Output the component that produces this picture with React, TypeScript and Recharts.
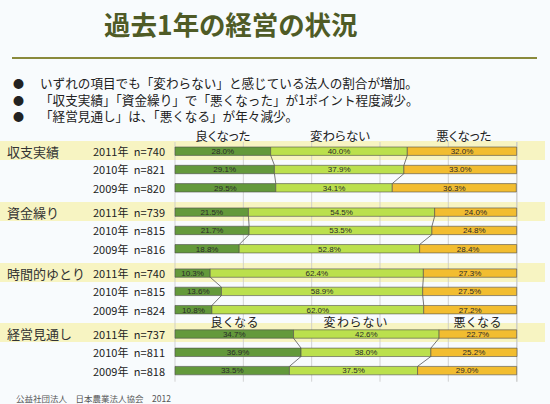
import { Bar, BarChart, CartesianGrid, LabelList, ReferenceLine, XAxis, YAxis } from "recharts";

const groups = ["収支実績", "資金繰り", "時間的ゆとり", "経営見通し"];
const years = ["2011年", "2010年", "2009年"];
const sampleSizes = [
	[740, 821, 820],
	[739, 815, 816],
	[740, 815, 824],
	[737, 811, 818],
];
const better = [
	[28.0, 29.1, 29.5],
	[21.5, 21.7, 18.8],
	[10.3, 13.6, 10.8],
	[34.7, 36.9, 33.5],
];
const same = [
	[40.0, 37.9, 34.1],
	[54.5, 53.5, 52.8],
	[62.4, 58.9, 62.0],
	[42.6, 38.0, 37.5],
];
const worse = [
	[32.0, 33.0, 36.3],
	[24.0, 24.8, 28.4],
	[27.3, 27.5, 27.2],
	[22.7, 25.2, 29.0],
];
const pastLabels = ["良くなった", "変わらない", "悪くなった"];
const outlookLabels = ["良くなる", "変わらない", "悪くなる"];
const bullets = [
	"いずれの項目でも「変わらない」と感じている法人の割合が増加。",
	"「収支実績」「資金繰り」で「悪くなった」が1ポイント程度減少。",
	"「経営見通し」は、「悪くなる」が年々減少。",
];
const title = "過去1年の経営の状況";
const footer = "公益社団法人　日本農業法人協会　2012";

// layout
const W = 550;
const H = 404;
const PLOT_LEFT = 175;
const PLOT_RIGHT = 517;
const PLOT_TOP = 142;
const ROW_PX = 18.3;
const GROUP_STEP = 3.33;
const Y_MIN = -0.5;
const Y_MAX = 12.6;
const PLOT_BOTTOM = PLOT_TOP + (Y_MAX - Y_MIN) * ROW_PX;
const BAR_PX = 8.4;
const HALF = BAR_PX / 2 / ROW_PX;

const COLORS = ["#63993b", "#bbe04d", "#f2bd30"];
const JP = '"Noto Sans CJK JP", "Noto Sans", sans-serif';

const rows = groups.flatMap((g, gi) =>
	years.map((y, yi) => ({
		group: g,
		gi,
		yi,
		year: y,
		n: sampleSizes[gi][yi],
		pos: gi * GROUP_STEP + yi,
		better: better[gi][yi],
		same: same[gi][yi],
		worse: worse[gi][yi],
	})),
);

const rowY = (pos: number) => PLOT_TOP + (pos - Y_MIN) * ROW_PX;

const connectors = rows.flatMap((r, i) => {
	if (r.yi === 2) return [];
	const next = rows[i + 1];
	return [
		[r.better, next.better],
		[r.better + r.same, next.better + next.same],
	].map(([a, b], k) => ({ key: `${i}-${k}`, a, b, y1: r.pos + HALF, y2: next.pos - HALF }));
});

const pct = (v: any) => `${Number(v).toFixed(1)}%`;

function RowTick(props: any) {
	const row = rows.find((r) => Math.abs(r.pos - props.payload.value) < 0.01);
	if (!row) return null;
	const y = props.y;
	return (
		<g fontFamily={JP} fill="#222">
			{row.yi === 0 && (
				<text x={7} y={y} dominantBaseline="central" fontSize={13} fill="#333">
					{row.group}
				</text>
			)}
			<text x={93} y={y} dominantBaseline="central" fontSize={11}>
				{row.year}
			</text>
			<text x={165} y={y} dominantBaseline="central" fontSize={11} textAnchor="end">
				n={row.n}
			</text>
		</g>
	);
}

const headerStyle = (x: number, y: number, size: number): React.CSSProperties => ({
	position: "absolute",
	left: x - 60,
	width: 120,
	top: y - size * 0.5,
	textAlign: "center",
	fontSize: size,
	lineHeight: `${size}px`,
	color: "#222",
	fontFeatureSettings: '"palt"',
});

export default function App() {
	return (
		<div
			style={{
				position: "absolute",
				left: 0,
				top: 0,
				width: W,
				height: H,
				background: "#f8fbfd",
				fontFamily: JP,
				overflow: "hidden",
			}}
		>
			<div
				style={{
					position: "absolute",
					left: 104,
					top: 8,
					fontSize: 26.5,
					fontWeight: 700,
					color: "#4f5b26",
					lineHeight: "32px",
					fontFeatureSettings: '"palt"',
				}}
			>
				{title}
			</div>
			<div style={{ position: "absolute", left: 12, top: 57, width: 525, height: 2, background: "#8a8a3c" }} />
			{bullets.map((b, i) => (
				<div
					key={i}
					style={{
						position: "absolute",
						left: 13,
						top: 76 + i * 16.5,
						fontSize: 12.6,
						lineHeight: "14px",
						color: "#222",
						whiteSpace: "nowrap",
					}}
				>
					<span style={{ display: "inline-block", width: 27, fontSize: 11 }}>●</span>
					<span>{b}</span>
				</div>
			))}
			{groups.map((g, gi) => (
				<div
					key={g}
					style={{
						position: "absolute",
						left: 0,
						width: 545,
						top: rowY(gi * GROUP_STEP) - 10.5,
						height: 19,
						background: "#f7f4c2",
					}}
				/>
			))}
			{pastLabels.map((t, i) => (
				<div key={t + i} style={headerStyle([223, 340, 464][i], 136.5, 12.5)}>
					{t}
				</div>
			))}
			{outlookLabels.map((t, i) => (
				<div key={t + i} style={{ ...headerStyle([235, 356, 478][i], 321.5, 12), letterSpacing: 1.5 }}>
					{t}
				</div>
			))}
			<div style={{ position: "absolute", left: 0, top: 0 }}>
				<BarChart
					width={W}
					height={H}
					data={rows}
					layout="vertical"
					margin={{ top: PLOT_TOP, bottom: H - PLOT_BOTTOM, left: 0, right: W - PLOT_RIGHT }}
				>
					<CartesianGrid horizontal={false} stroke="#c8c8c8" strokeWidth={0.8} />
					<XAxis type="number" domain={[0, 100]} ticks={[0, 20, 40, 60, 80, 100]} hide />
					<YAxis
						type="number"
						dataKey="pos"
						domain={[Y_MIN, Y_MAX]}
						allowDataOverflow
						ticks={rows.map((r) => r.pos)}
						interval={0}
						width={PLOT_LEFT}
						axisLine={false}
						tickLine={false}
						tick={(p: any) => <RowTick {...p} />}
					/>
					{connectors.map((c) => (
						<ReferenceLine
							key={c.key}
							segment={[
								{ x: c.a, y: c.y1 },
								{ x: c.b, y: c.y2 },
							]}
							stroke="#555"
							strokeWidth={0.8}
						/>
					))}
					{(["better", "same", "worse"] as const).map((k, i) => (
						<Bar
							key={k}
							dataKey={k}
							stackId="a"
							barSize={BAR_PX}
							fill={COLORS[i]}
							stroke="#4d4d4d"
							strokeWidth={0.6}
							isAnimationActive={false}
						>
							<LabelList
								dataKey={k}
								position="center"
								formatter={pct}
								fontSize={8}
								fill="#2a2a2a"
								fontFamily='"Liberation Sans", Arial, sans-serif'
							/>
						</Bar>
					))}
				</BarChart>
			</div>
			<div
				style={{
					position: "absolute",
					left: 16,
					top: 392,
					fontSize: 8.5,
					lineHeight: "12px",
					color: "#555",
					whiteSpace: "nowrap",
				}}
			>
				{footer}
			</div>
		</div>
	);
}
